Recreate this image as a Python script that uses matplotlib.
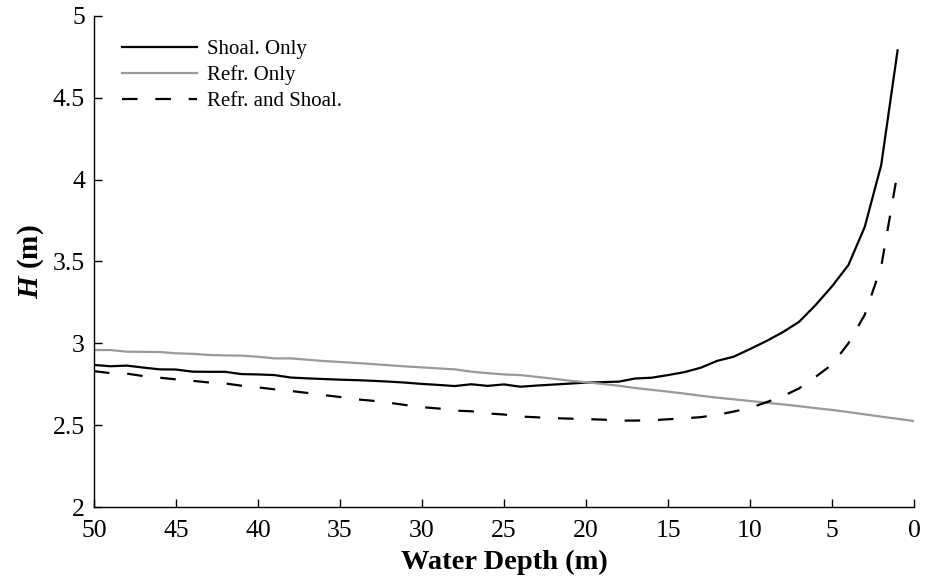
import matplotlib
matplotlib.use("Agg")
import matplotlib.pyplot as plt

plt.rcParams['font.family'] = ['Liberation Serif', 'DejaVu Serif']
plt.rcParams['mathtext.fontset'] = 'custom'
plt.rcParams['mathtext.bfit'] = 'Liberation Serif:italic:bold'
plt.rcParams['mathtext.rm'] = 'Liberation Serif'

depth_shoal = list(range(50, 0, -1))
h_shoal = [2.868, 2.860, 2.864, 2.852, 2.841, 2.840, 2.827, 2.826, 2.826, 2.812,
           2.810, 2.806, 2.791, 2.786, 2.782, 2.778, 2.775, 2.771, 2.766, 2.760,
           2.752, 2.746, 2.739, 2.750, 2.740, 2.749, 2.735, 2.742, 2.748, 2.754,
           2.760, 2.763, 2.766, 2.785, 2.790, 2.806, 2.824, 2.851, 2.893, 2.918,
           2.965, 3.014, 3.068, 3.132, 3.234, 3.348, 3.478, 3.712, 4.089, 4.790]

depth_refr = list(range(50, -1, -1))
h_refr = [2.959, 2.959, 2.949, 2.948, 2.947, 2.939, 2.936, 2.929, 2.926, 2.925,
          2.918, 2.908, 2.908, 2.900, 2.892, 2.886, 2.880, 2.873, 2.866, 2.859,
          2.853, 2.847, 2.841, 2.827, 2.818, 2.810, 2.806, 2.795, 2.784, 2.772,
          2.762, 2.752, 2.741, 2.727, 2.716, 2.705, 2.693, 2.680, 2.668, 2.658,
          2.648, 2.637, 2.627, 2.616, 2.604, 2.593, 2.580, 2.566, 2.552, 2.539,
          2.525]

depth_both = list(range(50, 0, -1))
h_both = [2.830, 2.818, 2.815, 2.800, 2.790, 2.780, 2.771, 2.761, 2.755, 2.741,
          2.731, 2.719, 2.709, 2.697, 2.684, 2.672, 2.658, 2.649, 2.637, 2.623,
          2.610, 2.602, 2.589, 2.585, 2.572, 2.565, 2.553, 2.548, 2.543, 2.540,
          2.537, 2.534, 2.528, 2.528, 2.530, 2.536, 2.542, 2.549, 2.563, 2.583,
          2.606, 2.640, 2.677, 2.725, 2.795, 2.870, 3.000, 3.175, 3.468, 4.045]

labels = ['Shoal. Only', 'Refr. Only', 'Refr. and Shoal.']
x_ticks = [50, 45, 40, 35, 30, 25, 20, 15, 10, 5, 0]
y_ticks = [2, 2.5, 3, 3.5, 4, 4.5, 5]
y_ticklabels = ['2', '2.5', '3', '3.5', '4', '4.5', '5']

fig = plt.figure(figsize=(9.25, 5.77), dpi=100)
ax = fig.add_axes([0.1016, 0.1213, 0.8865, 0.851])

ax.plot(depth_shoal, h_shoal, color='black', lw=1.6, label=labels[0])
ax.plot(depth_refr, h_refr, color='#999999', lw=1.6, label=labels[1])
ax.plot(depth_both, h_both, color='black', lw=1.6, dashes=(7.0, 8.0), label=labels[2])

ax.set_xlim(50, 0)
ax.set_ylim(2, 5)
ax.set_xticks(x_ticks)
ax.set_xticklabels([str(t) for t in x_ticks])
ax.set_yticks(y_ticks)
ax.set_yticklabels(y_ticklabels)

for s in ['top', 'right']:
    ax.spines[s].set_visible(False)
for s in ['left', 'bottom']:
    ax.spines[s].set_linewidth(1.0)

ax.tick_params(direction='in', length=6, width=1.0, labelsize=18.5)
ax.tick_params(axis='x', pad=9)
ax.tick_params(axis='y', pad=6.5)

ax.set_xlabel('Water Depth (m)', fontsize=20.5, fontweight='bold', labelpad=6)
ax.set_ylabel(r'$\mathbfit{H}$ (m)', fontsize=21, fontweight='bold', labelpad=5)

leg = ax.legend(loc='upper left', bbox_to_anchor=(0.034, 0.952), frameon=False,
                fontsize=15, handlelength=3.6, handletextpad=0.5,
                labelspacing=0.3, borderpad=0, borderaxespad=0)

fig.savefig('out.png', dpi=100)
